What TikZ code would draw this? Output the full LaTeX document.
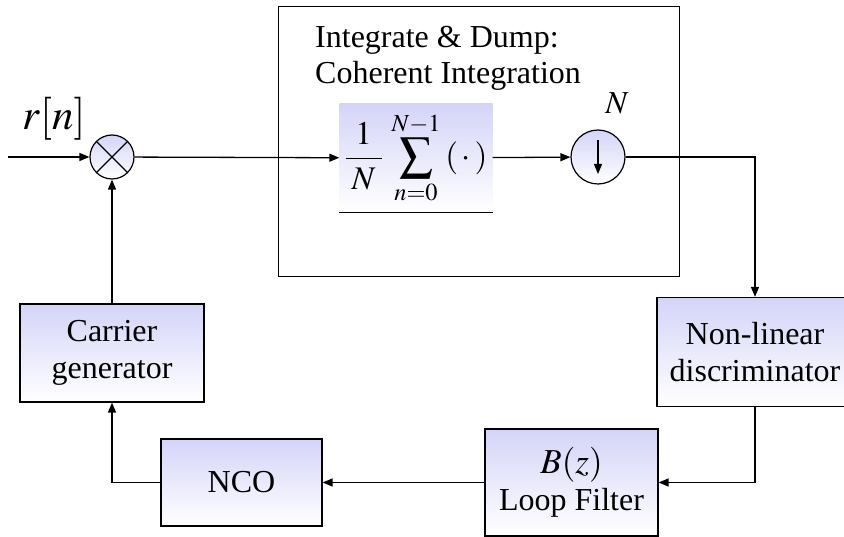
\documentclass[tikz,border=0pt]{standalone}
\usepackage{mathptmx}
\usepackage[no-math]{fontspec}
\setmainfont{Liberation Serif}
\usepackage{tikz}
\usetikzlibrary{arrows.meta,positioning,calc}
\definecolor{blktop}{RGB}{212,212,248}
\tikzset{
  blk/.style  ={draw,line width=1.2pt,top color=blktop,bottom color=white,
                align=center,inner sep=0pt,font=\fontsize{32}{37}\selectfont},
  sumr/.style ={circle,draw,line width=1.2pt,top color=blktop,bottom color=white,inner sep=0pt},
  lbl/.style  ={inner sep=0pt,font=\fontsize{32}{36}\selectfont},
  arr/.style  ={-{Triangle[length=10pt,width=8pt]},line width=1.3pt},
}

\begin{document}
\begin{tikzpicture}[x=1pt,y=-1pt]
  \useasboundingbox (0,0) rectangle (844,537);
  % integrate & dump frame
  \node[draw,line width=1pt,minimum width=401pt,minimum height=270pt,inner sep=0pt]
    (idbox) at (479,142) {};
  \node[lbl,align=left,anchor=north west] (idtxt) at (315,26)
    {Integrate \& Dump:\\Coherent Integration};
  % forward path
  \coordinate (in) at (8,157);
  \node[lbl,font=\fontsize{43}{46}\selectfont] (rn) at (54,119) {$r[n]$};
  \node[sumr,minimum size=44pt,
        path picture={\draw[line width=1.2pt]
          (path picture bounding box.north west) -- (path picture bounding box.south east)
          (path picture bounding box.north east) -- (path picture bounding box.south west);}]
    (mult) at (112,157) {};
  \node[top color=blktop,bottom color=white,minimum width=153pt,minimum height=108pt,
        inner sep=0pt,font=\fontsize{33}{38}\selectfont]
    (sumbox) at (416,158)
    {$\displaystyle\frac{\hspace{6pt}1\hspace{6pt}}{\hspace{6pt}N\hspace{6pt}}\hspace{5pt}
      \sum_{n=0}^{N-1}\hspace{5pt}(\,\cdot\,)$};
  \draw[line width=1pt] (sumbox.south west) -- (sumbox.south east);
  \node[sumr,minimum size=54pt,
        path picture={\draw[arr,line width=1.2pt]
          ($(path picture bounding box.center)+(0,-17)$) -- ($(path picture bounding box.center)+(0,17)$);}]
    (down) at (598,157) {};
  \node[lbl] (nlbl) at (617,103) {$N$};
  % feedback path
  \node[blk,minimum width=196pt,minimum height=109pt] (nonlin) at (755,352)
    {Non-linear\\discriminator};
  \node[blk,minimum width=173pt,minimum height=107pt] (loopf) at (571.5,482.5)
    {{\fontsize{35}{40}\selectfont$B(z)$}\\Loop Filter};
  \node[blk,minimum width=161pt,minimum height=87pt] (nco) at (241.5,482.5) {NCO};
  \node[blk,minimum width=184pt,minimum height=98pt] (carrier) at (112,353)
    {Carrier\\generator};
  % connectors
  \draw[arr] (in) -- (mult);
  \draw[arr] (mult) -- (sumbox);
  \draw[arr] (sumbox) -- (down);
  \draw[arr] (down.east) -| (nonlin.north);
  \draw[arr] (nonlin.south) |- (loopf.east);
  \draw[arr] (loopf) -- (nco);
  \draw[arr] (nco.west) -| (carrier.south);
  \draw[arr] (carrier) -- (mult);
\end{tikzpicture}
\end{document}
